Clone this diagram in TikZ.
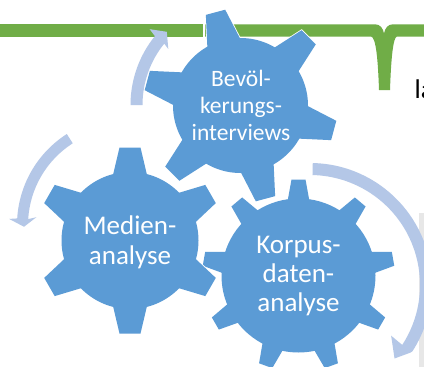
\documentclass[tikz,border=0pt]{standalone}
\usepackage{fontspec}
\setmainfont{Carlito}
\definecolor{gearblue}{HTML}{5B9BD5}
\definecolor{bargreen}{HTML}{70AD47}
\definecolor{arrowblue}{HTML}{B4C7E7}
\definecolor{panelgrey}{HTML}{E7E7E7}
% #1 cx, #2 cy, #3 first angle, #4 spacing, #5 last angle, #6 R, #7 tip r, #8 tip half, #9 base half
\newcommand{\gearshape}[9]{%
  \begin{scope}[shift={(#1,#2)},y=1pt]
    \foreach \passstyle in {gearedge,gearfill}{
      \path[\passstyle] (0,0) circle[radius=#6];
      \foreach \ang in {#3,#4,...,#5}{
        \path[\passstyle,rotate=\ang] (#6-3,#9) -- (#7,#8) -- (#7,-#8) -- (#6-3,-#9) -- cycle;
      }
    }
  \end{scope}}
\tikzset{
  gearedge/.style={draw=white,line width=1.6pt,line join=miter,fill=white},
  gearfill/.style={fill=gearblue},
  greenbar/.style={fill=bargreen},
  bluearrow/.style={fill=arrowblue},
  geartext/.style={text=white,align=center,inner sep=0pt},
}
\begin{document}
\begin{tikzpicture}[x=1pt,y=-1pt]
\useasboundingbox (0,0) rectangle (424,367);
\clip (0,0) rectangle (424,367);
\fill[white] (0,0) rectangle (424,367);
\fill[panelgrey] (419,212.5) rectangle (424,367);
% green bar
\path[greenbar] (0,24.3) rectangle (203,36.5);
\path[greenbar] (205,24.3) -- (375,24.3) .. controls (380,24.3) and (383,28) .. (384,33.5)
  .. controls (385,28) and (388,24.3) .. (393,24.3) -- (424,24.3) -- (424,36.5) -- (397,36.5)
  .. controls (393,37) and (391,60) .. (390,90) -- (379,90)
  .. controls (378,60) and (376,37) .. (371,36.5) -- (205,36.5) -- cycle;
% gears
\gearshape{298.5}{275.5}{90}{130}{410}{77}{96}{7}{11}
\gearshape{130}{240.5}{90}{150}{390}{68.5}{93}{10.5}{17}
\gearshape{240.5}{105.5}{105}{165}{405}{67.5}{96.5}{10}{17}
% circular arrows
\begin{scope}[shift={(240,105)},y=1pt]
  \path[bluearrow] (180:109.5) arc[start angle=180,end angle=141,radius=109.5] -- (140:118) -- (135:103.5)
    -- (142:91) -- (141:97.5) arc[start angle=141,end angle=180,radius=97.5] -- cycle;
\end{scope}
\begin{scope}[shift={(125,225)},y=1pt]
  \path[bluearrow] (122.6:108) arc[start angle=122.6,end angle=176.5,radius=108] -- (177:116) -- (181:101)
    -- (175:89) -- (176.5:97) arc[start angle=176.5,end angle=122.6,radius=97] -- cycle;
\end{scope}
\begin{scope}[shift={(310,285)},y=1pt]
  \path[bluearrow] (88.7:122) arc[start angle=88.7,end angle=-33,radius=122] -- (-34:121) -- (-41:112)
    -- (-32:95.7) -- (-33:110) arc[start angle=-33,end angle=88.7,radius=110] -- cycle;
\end{scope}
% text
\node[geartext,font=\fontsize{23.5}{27}\selectfont] (bev) at (241,105) {Bevöl-\\kerungs-\\interviews};
\node[geartext,font=\fontsize{27}{30}\selectfont] (med) at (130,242.5) {Medien-\\analyse};
\node[geartext,font=\fontsize{27}{29}\selectfont] (kor) at (298.5,276) {Korpus-\\daten-\\analyse};
\node[anchor=base west,inner sep=0pt,text=black,font=\fontsize{27}{30}\selectfont] (la) at (414.5,98.5) {la};
\end{tikzpicture}
\end{document}
